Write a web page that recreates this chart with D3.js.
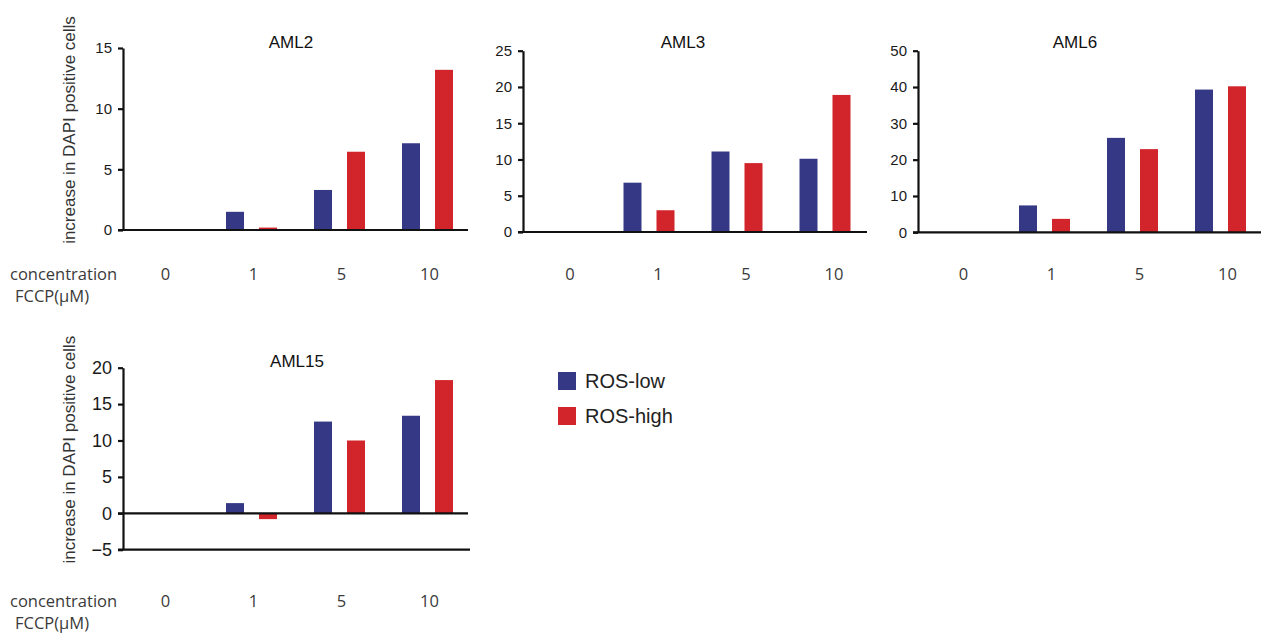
<!DOCTYPE html>
<html lang="en">
<head>
<meta charset="utf-8" />
<title>FCCP DAPI bars</title>
<script src="https://d3js.org/d3.v7.min.js"></script>
<style>
  body { margin: 0; background: #ffffff; }
  svg text { font-family: "Liberation Sans", Arial, sans-serif; }
  .cat { font-family: "Open Sans", sans-serif; fill: #3a3a3a; font-size: 16.5px; }
  .tick text { fill: #1a1a1a; }
</style>
</head>
<body>
<div id="chart"></div>
<script>
    // Data
    var concentrations = ["0", "1", "5", "10"];
    var series = ["ROS-low", "ROS-high"];
    var panelNames = ["AML2", "AML3", "AML6", "AML15"];

    var aml2Low   = [0, 1.5, 3.3, 7.15];
    var aml2High  = [0, 0.2, 6.45, 13.2];
    var aml3Low   = [0, 6.8, 11.1, 10.1];
    var aml3High  = [0, 3.0, 9.5, 18.9];
    var aml6Low   = [0, 7.4, 26.0, 39.3];
    var aml6High  = [0, 3.7, 22.9, 40.2];
    var aml15Low  = [0, 1.4, 12.6, 13.4];
    var aml15High = [0, -0.8, 10.0, 18.3];

    var aml2Ticks  = [0, 5, 10, 15];
    var aml3Ticks  = [0, 5, 10, 15, 20, 25];
    var aml6Ticks  = [0, 10, 20, 30, 40, 50];
    var aml15Ticks = [-5, 0, 5, 10, 15, 20];

    var colors = ["#353985", "#d1242b"];

    var lowVals  = [aml2Low, aml3Low, aml6Low, aml15Low];
    var highVals = [aml2High, aml3High, aml6High, aml15High];
    var tickSets = [aml2Ticks, aml3Ticks, aml6Ticks, aml15Ticks];

    // Layout of each panel (pixels)
    var layout = [
      {ax: 123, xEnd: 468, band: [119.5, 471.5], yr: [230, 48],    catY: 280, dx: 2,  tickFs: 15, titleX: 291, titleY: 48,  ylab: true,  conc: true},
      {ax: 523, xEnd: 867, band: [517, 869],     yr: [232, 50.7],  catY: 280, dx: 9,  tickFs: 15, titleX: 683, titleY: 48,  ylab: false, conc: false},
      {ax: 918, xEnd: 1261, band: [912.5, 1264.5], yr: [232.3, 50.7], catY: 280, dx: 7, tickFs: 15, titleX: 1075, titleY: 48, ylab: false, conc: false},
      {ax: 123, xEnd: 468, band: [119.5, 471.5], yr: [549.7, 367.7], catY: 607, dx: 2, tickFs: 18, titleX: 297, titleY: 367, ylab: true, conc: true}
    ];

    var svg = d3.select("#chart").append("svg")
                .attr("width", 1263)
                .attr("height", 635);

    var x1 = d3.scaleBand()
               .domain(series)
               .range([-25.5, 25.5])
               .paddingInner(15 / 33);

    panelNames.forEach(function(name, i) {
      var L = layout[i];
      var ticks = tickSets[i];
      var g = svg.append("g").attr("class", "panel");

      var x = d3.scaleBand()
                .domain(concentrations)
                .range(L.band);

      var y = d3.scaleLinear()
                .domain(d3.extent(ticks))
                .range(L.yr);

      var rows = concentrations.map(function(c, k) {
        return [{c: c, s: series[0], v: lowVals[i][k]},
                {c: c, s: series[1], v: highVals[i][k]}];
      }).flat();

      // bars
      g.selectAll("rect.bar")
       .data(rows)
       .enter().append("rect")
       .attr("class", "bar")
       .attr("x", function(d) { return x(d.c) + x.bandwidth() / 2 + x1(d.s); })
       .attr("width", x1.bandwidth())
       .attr("y", function(d) { return y(Math.max(0, d.v)); })
       .attr("height", function(d) { return Math.abs(y(d.v) - y(0)); })
       .attr("fill", function(d) { return d.s === series[0] ? colors[0] : colors[1]; });

      // y axis
      var yAxis = d3.axisLeft(y)
                    .tickValues(ticks)
                    .tickSize(5)
                    .tickSizeOuter(0)
                    .tickPadding(6);
      var ya = g.append("g")
                .attr("transform", "translate(" + L.ax + ",0)")
                .call(yAxis);
      ya.selectAll("path, line").attr("stroke", "#111").attr("stroke-width", 2.2);
      ya.selectAll("text").attr("font-size", L.tickFs).attr("font-family", "Liberation Sans, Arial, sans-serif");

      // zero line
      g.append("line")
       .attr("x1", L.ax - 5).attr("x2", L.xEnd)
       .attr("y1", y(0)).attr("y2", y(0))
       .attr("stroke", "#111").attr("stroke-width", 2.2);

      // bottom line when axis goes below zero
      if (ticks[0] < 0) {
        g.append("line")
         .attr("x1", L.ax - 5).attr("x2", L.xEnd + 2)
         .attr("y1", y(ticks[0])).attr("y2", y(ticks[0]))
         .attr("stroke", "#111").attr("stroke-width", 2.2);
      }

      // category labels
      g.selectAll("text.cat")
       .data(concentrations)
       .enter().append("text")
       .attr("class", "cat")
       .attr("x", function(d) { return x(d) + x.bandwidth() / 2 + L.dx; })
       .attr("y", L.catY)
       .attr("text-anchor", "middle")
       .text(function(d) { return d; });

      // title
      g.append("text")
       .attr("x", L.titleX)
       .attr("y", L.titleY)
       .attr("text-anchor", "middle")
       .attr("font-size", 17)
       .attr("fill", "#111")
       .text(name);

      if (L.ylab) {
        var mid = (L.yr[0] + L.yr[1]) / 2 - 9;
        g.append("text")
         .attr("transform", "translate(75," + mid + ") rotate(-90)")
         .attr("text-anchor", "middle")
         .attr("font-size", 17)
         .attr("fill", "#333")
         .text("increase in DAPI positive cells");
      }

      if (L.conc) {
        g.append("text").attr("class", "cat")
         .attr("x", 10).attr("y", L.catY)
         .text("concentration");
        g.append("text").attr("class", "cat")
         .attr("x", 15).attr("y", L.catY + 22)
         .text("FCCP(\u03BCM)");
      }
    });

    // legend
    var legend = svg.append("g")
                    .attr("transform", "translate(558,372)");
    var items = legend.selectAll("g")
                      .data(series)
                      .enter().append("g")
                      .attr("transform", function(d, i) { return "translate(0," + (i * 35) + ")"; });
    items.append("rect")
         .attr("width", 18).attr("height", 18)
         .attr("fill", function(d, i) { return colors[i]; });
    items.append("text")
         .attr("x", 27).attr("y", 16)
         .attr("font-size", 20)
         .attr("fill", "#222")
         .text(function(d) { return d; });
</script>
</body>
</html>
